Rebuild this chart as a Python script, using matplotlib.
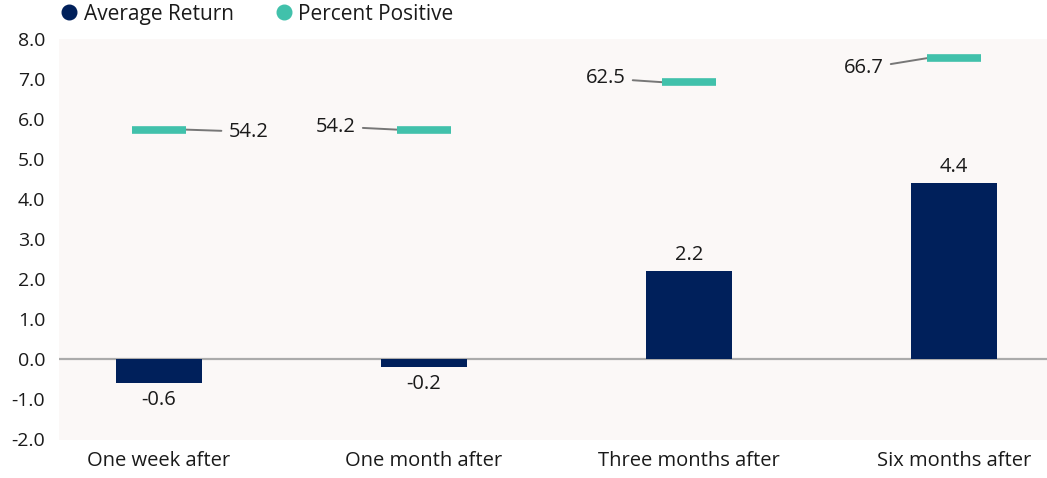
import matplotlib
matplotlib.use("Agg")
import matplotlib.pyplot as plt
from matplotlib.lines import Line2D

# ---- data ----
categories = ["One week after", "One month after", "Three months after", "Six months after"]
avg_return = [-0.6, -0.2, 2.2, 4.4]
pct_positive = [54.2, 54.2, 62.5, 66.7]
yticks = [-2.0, -1.0, 0.0, 1.0, 2.0, 3.0, 4.0, 5.0, 6.0, 7.0, 8.0]

# ---- style ----
NAVY = "#00205B"
TEAL = "#41C1AB"
BG = "#FBF8F7"
TXT = "#1A1A1A"
FONT = ["Open Sans", "DejaVu Sans"]
FS_TICK = 14
FS_CAT = 14.5
FS_LAB = 14.5
FS_LEG = 15
plt.rcParams["font.family"] = FONT

W, H = 1047, 478
fig = plt.figure(figsize=(W / 100, H / 100), dpi=100)
left, right, top, bottom = 59, 1047, 39.3, 439.5
ax = fig.add_axes([left / W, 1 - bottom / H, (right - left) / W, (bottom - top) / H])
ax.set_facecolor(BG)

x = list(range(len(categories)))
bar_w = 0.326
ax.bar(x, avg_return, width=bar_w, color=NAVY, zorder=3)
ax.axhline(0, color="#ABABAB", lw=1.6, zorder=2)
ax.set_ylim(-2, 8)
ax.set_xlim(-0.377, 3.351)
ax.set_yticks(yticks)
ax.set_yticklabels([f"{v:.1f}" for v in yticks], fontsize=FS_TICK, color=TXT)
ax.set_xticks(x)
ax.set_xticklabels(categories, fontsize=FS_CAT, color=TXT)
ax.tick_params(axis="both", length=0)
ax.tick_params(axis="y", pad=10)
ax.tick_params(axis="x", pad=8)
for s in ax.spines.values():
    s.set_visible(False)

for xi, v in zip(x, avg_return):
    off = 12 if v >= 0 else -12
    ax.annotate(f"{v:.1f}", xy=(xi, v), xytext=(0, off), textcoords="offset points",
                ha="center", va="center", fontsize=FS_LAB, color=TXT, zorder=4)

# secondary scale for percent positive
ax2 = ax.twinx()
ax2.set_ylim(0, 70)
ax2.axis("off")
mk_w = 0.204
ax2.hlines(pct_positive, [xi - mk_w / 2 for xi in x], [xi + mk_w / 2 for xi in x],
           colors=TEAL, lw=5.5, capstyle="butt", zorder=5)

label_side = ["right", "left", "left", "left"]
label_off = [(30.5, -1.5), (-29.5, 2.2), (-26, 2.7), (-31, -7.4)]
for xi, p, side, off in zip(x, pct_positive, label_side, label_off):
    ex = xi + mk_w / 2 if side == "right" else xi - mk_w / 2
    ax2.annotate(f"{p:.1f}", xy=(ex, p), xytext=off, textcoords="offset points",
                 ha="left" if side == "right" else "right", va="center",
                 fontsize=FS_LAB, color=TXT,
                 arrowprops=dict(arrowstyle="-", color="#777777", lw=1.4,
                                 shrinkA=3, shrinkB=0))

handles = [Line2D([], [], marker="o", ls="", color=NAVY, markersize=10.5),
           Line2D([], [], marker="o", ls="", color=TEAL, markersize=10.5)]
fig.legend(handles, ["Average Return", "Percent Positive"], loc="upper left",
           bbox_to_anchor=(46 / W, 1 + 9 / H), ncol=2, frameon=False,
           fontsize=FS_LEG, handletextpad=0.2, columnspacing=1.9, borderpad=0.1,
           handlelength=1.0, labelcolor=TXT)

fig.savefig("out.png", dpi=100, facecolor="white")
